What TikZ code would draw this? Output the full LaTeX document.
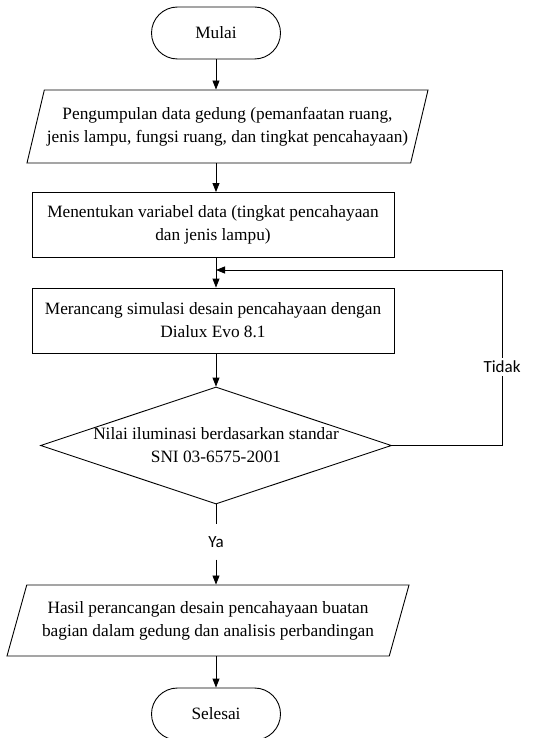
\documentclass[tikz,border=0pt]{standalone}
\usepackage{fontspec}
\setmainfont{Liberation Serif}
\newfontfamily\tagfont{Carlito}
\usetikzlibrary{shapes.geometric,arrows.meta}
\tikzset{every picture/.style={x=1pt,y=1pt}}
\tikzset{base/.style={draw,line width=0.9pt,align=center,font=\fontsize{17.3}{23}\selectfont,inner sep=0pt}}
\tikzset{terminal/.style={base,rectangle,rounded corners=26pt,minimum width=129pt,minimum height=52pt}}
\tikzset{process/.style={base,rectangle,minimum width=362pt,minimum height=65pt}}
\tikzset{io/.style={base,trapezium,trapezium left angle=66,trapezium right angle=114,trapezium stretches body,minimum width=401pt,minimum height=73pt}}
\tikzset{decision/.style={base,diamond,aspect=3}}
\tikzset{edge/.style={line width=0.9pt,-{Triangle[length=9pt,width=7pt]}}}
\tikzset{link/.style={line width=0.9pt}}
\tikzset{tag/.style={font=\tagfont\fontsize{17}{20}\selectfont,fill=white,inner xsep=1pt,inner ysep=3pt}}
\begin{document}
\begin{tikzpicture}
\useasboundingbox (0,0) rectangle (550,-738);
\node[terminal] (start) at (216,-33) {Mulai};
\node[io] (collect) at (227.5,-126.5) {Pengumpulan data gedung (pemanfaatan ruang,\\jenis lampu, fungsi ruang, dan tingkat pencahayaan)};
\node[process] (vars) at (213,-225) {Menentukan variabel data (tingkat pencahayaan\\dan jenis lampu)};
\node[process] (design) at (213,-320.5) {Merancang simulasi desain pencahayaan dengan\\Dialux Evo 8.1};
\node[decision] (check) at (216,-445.5) {Nilai iluminasi berdasarkan standar\\SNI 03-6575-2001};
\node[tag,inner ysep=12pt] (yes) at (216,-542) {Ya};
\node[io,trapezium left angle=63,trapezium right angle=117,minimum width=402pt,minimum height=71pt] (result) at (208,-620.5) {Hasil perancangan desain pencahayaan buatan\\bagian dalam gedung dan analisis perbandingan};
\node[terminal] (finish) at (216,-714) {Selesai};
\node[tag] (no) at (502,-367) {Tidak};
\coordinate (join) at (216,-270);
\draw[edge] (start) -- (start |- collect.north);
\draw[edge] (collect.south -| start) -- (vars.north -| start);
\draw[edge] (vars.south -| start) -- (design.north -| start);
\draw[edge] (design.south -| start) -- (check);
\draw[link] (check) -- (yes);
\draw[edge] (yes) -- (yes |- result.north);
\draw[edge] (result.south -| finish) -- (finish);
\draw[link] (check.east) -| (no.south);
\draw[edge] (no.north) |- (join);
\end{tikzpicture}
\end{document}
